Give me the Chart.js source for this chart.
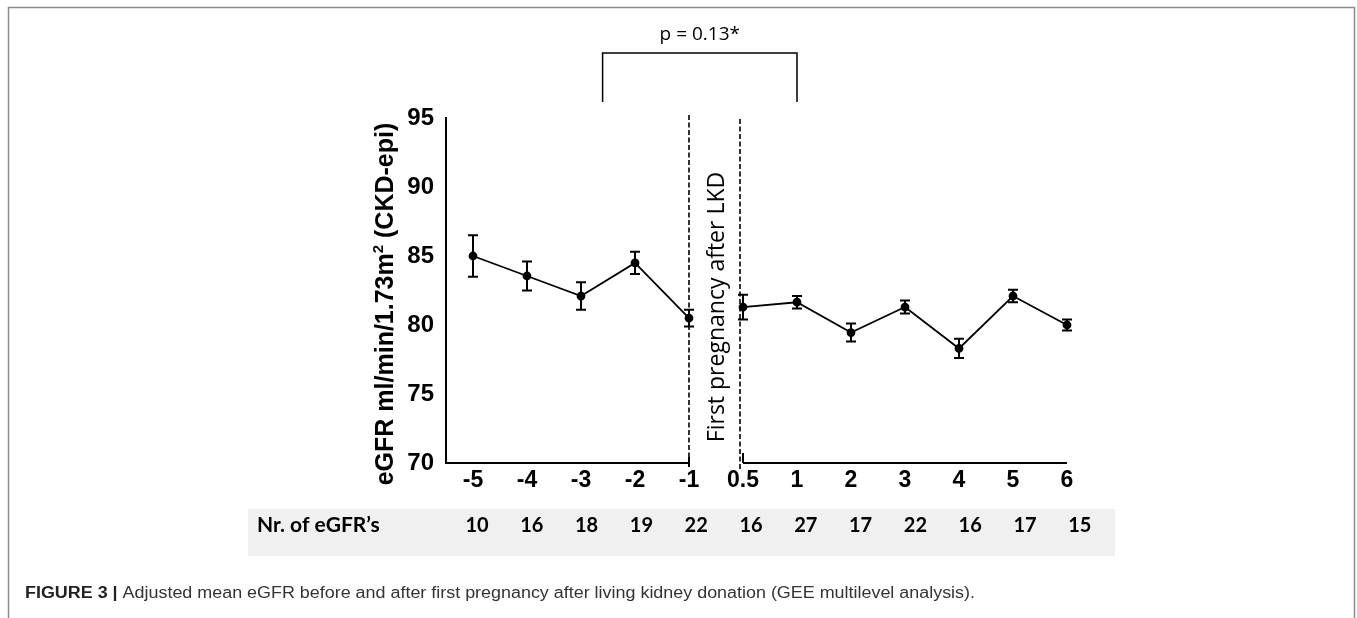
<!DOCTYPE html>
<html>
<head>
<meta charset="utf-8">
<script src="https://cdn.jsdelivr.net/npm/chart.js@4/dist/chart.umd.min.js"></script>
<style>
  html, body { margin: 0; padding: 0; background: #fff; }
  #wrap { width: 1357px; height: 618px; }
</style>
</head>
<body>
<div id="wrap"><canvas id="myChart" width="1357" height="618"></canvas></div>
<script>
// years relative to first pregnancy
const yearLabels = ['-5', '-4', '-3', '-2', '-1', '0.5', '1', '2', '3', '4', '5', '6'];
// adjusted mean eGFR (GEE)
const meanEgfr = [85.0, 83.55, 82.1, 84.5, 80.5, 81.3, 81.65, 79.45, 81.3, 78.3, 82.1, 80.0];
const errorMargin = [1.5, 1.05, 1.0, 0.8, 0.6, 0.9, 0.45, 0.65, 0.47, 0.7, 0.45, 0.4];
const nrOfEgfr = [10, 16, 18, 19, 22, 16, 27, 17, 22, 16, 17, 15];
const yTicks = [70, 75, 80, 85, 90, 95];

const lastBefore = 4; // index of '-1'

/* background, frame and the table band */
const backgroundPlugin = {
  id: 'background',
  beforeDraw(chart) {
    const ctx = chart.ctx;
    ctx.save();
    ctx.fillStyle = '#fff';
    ctx.fillRect(0, 0, chart.width, chart.height);
    // frame
    ctx.strokeStyle = '#8c8c8c';
    ctx.lineWidth = 1.5;
    ctx.beginPath();
    ctx.moveTo(8.5, chart.height);
    ctx.lineTo(8.5, 7.5);
    ctx.lineTo(1354.5, 7.5);
    ctx.lineTo(1354.5, chart.height);
    ctx.stroke();
    // grey band of the table
    ctx.fillStyle = '#f0f0f0';
    ctx.fillRect(248, 509, 867, 47);
    ctx.restore();
  }
};

/* error bars */
const errorBarPlugin = {
  id: 'errorBars',
  afterDatasetsDraw(chart) {
    const ctx = chart.ctx;
    const x = chart.scales.x, y = chart.scales.y;
    ctx.save();
    ctx.strokeStyle = '#000';
    ctx.lineWidth = 2;
    meanEgfr.forEach(function(v, i) {
      const px = x.getPixelForValue(i);
      const top = y.getPixelForValue(v + errorMargin[i]);
      const bot = y.getPixelForValue(v - errorMargin[i]);
      ctx.beginPath();
      ctx.moveTo(px, top); ctx.lineTo(px, bot);
      ctx.moveTo(px - 5, top); ctx.lineTo(px + 5, top);
      ctx.moveTo(px - 5, bot); ctx.lineTo(px + 5, bot);
      ctx.stroke();
    });
    ctx.restore();
  }
};

/* split x axis, dashed markers, bracket, labels, table and caption */
const annotatePlugin = {
  id: 'annotate',
  afterDraw(chart) {
    const ctx = chart.ctx;
    const x = chart.scales.x, y = chart.scales.y;
    const area = chart.chartArea;
    const xa = x.getPixelForValue(lastBefore);
    const xb = x.getPixelForValue(lastBefore + 1);
    const xEnd = x.getPixelForValue(yearLabels.length - 1);
    ctx.save();
    ctx.strokeStyle = '#000';
    ctx.fillStyle = '#000';

    // x axis in two parts
    ctx.lineWidth = 2;
    ctx.beginPath();
    ctx.moveTo(area.left, area.bottom); ctx.lineTo(xa, area.bottom);
    ctx.moveTo(xa, area.bottom - 6); ctx.lineTo(xa, area.bottom + 4);
    ctx.moveTo(xb, area.bottom); ctx.lineTo(xEnd, area.bottom);
    ctx.moveTo(xb, area.bottom - 10); ctx.lineTo(xb, area.bottom);
    ctx.stroke();

    // dashed vertical lines around the pregnancy
    ctx.lineWidth = 1.6;
    ctx.setLineDash([5, 2.5]);
    ctx.beginPath();
    ctx.moveTo(xa, area.top - 3); ctx.lineTo(xa, area.bottom + 4);
    ctx.moveTo(xb - 3, area.top + 1); ctx.lineTo(xb - 3, area.bottom + 7);
    ctx.stroke();
    ctx.setLineDash([]);

    // vertical label between the lines
    ctx.save();
    ctx.translate((xa + xb - 3) / 2 + 9, 307);
    ctx.rotate(-Math.PI / 2);
    ctx.font = '23px "Open Sans"';
    ctx.textAlign = 'center';
    ctx.textBaseline = 'alphabetic';
    ctx.fillText('First pregnancy after LKD', 0, 0);
    ctx.restore();

    // bracket with p value
    const bl = x.getPixelForValue(2.4), br = x.getPixelForValue(6);
    ctx.lineWidth = 1.5;
    ctx.beginPath();
    ctx.moveTo(bl, 102); ctx.lineTo(bl, 53); ctx.lineTo(br, 53); ctx.lineTo(br, 102);
    ctx.stroke();
    ctx.font = '19px "Open Sans"';
    ctx.textAlign = 'center';
    ctx.fillText('p = 0.13*', (bl + br) / 2, 40);

    // y axis title with superscript
    ctx.save();
    ctx.translate(393, 304);
    ctx.rotate(-Math.PI / 2);
    const big = 'bold 25px "Liberation Sans"', small = 'bold 15px "Liberation Sans"';
    const p1 = 'eGFR ml/min/1.73m', p2 = '2', p3 = ' (CKD-epi)';
    ctx.font = big;
    const w1 = ctx.measureText(p1).width, w3 = ctx.measureText(p3).width;
    ctx.font = small;
    const w2 = ctx.measureText(p2).width;
    let sx = -(w1 + w2 + w3) / 2;
    ctx.textAlign = 'left';
    ctx.font = big; ctx.fillText(p1, sx, 0); sx += w1;
    ctx.font = small; ctx.fillText(p2, sx, -10); sx += w2;
    ctx.font = big; ctx.fillText(p3, sx, 0);
    ctx.restore();

    // table row
    ctx.font = 'bold 21px Lato';
    ctx.textAlign = 'left';
    ctx.fillText('Nr. of eGFR\u2019s', 257, 532);
    ctx.font = 'bold 20px Lato';
    ctx.textAlign = 'center';
    nrOfEgfr.forEach(function(n, i) {
      ctx.fillText(String(n), x.getPixelForValue(i) + 4 + i * 0.8, 532);
    });

    // caption
    const c1 = 'FIGURE 3 | ', c2 = 'Adjusted mean eGFR before and after first pregnancy after living kidney donation (GEE multilevel analysis).';
    ctx.textAlign = 'left';
    ctx.font = 'bold 16px "Liberation Sans"';
    const cw1 = ctx.measureText(c1).width;
    ctx.font = '16px "Liberation Sans"';
    const cw2 = ctx.measureText(c2).width;
    const k = 950 / (cw1 + cw2);
    ctx.save();
    ctx.translate(25, 598);
    ctx.scale(k, 1);
    ctx.fillStyle = '#222';
    ctx.font = 'bold 16px "Liberation Sans"';
    ctx.fillText(c1, 0, 0);
    ctx.fillStyle = '#333';
    ctx.font = '16px "Liberation Sans"';
    ctx.fillText(c2, cw1, 0);
    ctx.restore();

    ctx.restore();
  }
};

new Chart(document.getElementById('myChart'), {
  type: 'line',
  data: {
    labels: yearLabels,
    datasets: [{
      label: 'eGFR',
      data: meanEgfr,
      borderColor: '#000',
      borderWidth: 1.8,
      pointRadius: 3.5,
      pointBackgroundColor: '#000',
      pointBorderColor: '#000',
      segment: {
        borderColor: c => c.p0DataIndex === lastBefore ? 'rgba(0,0,0,0)' : '#000'
      },
      clip: false
    }]
  },
  options: {
    responsive: false,
    animation: false,
    layout: { padding: { top: 118, right: 263, bottom: 0, left: 0 } },
    plugins: { legend: { display: false }, tooltip: { enabled: false } },
    scales: {
      x: {
        type: 'category',
        offset: true,
        grid: { display: false, drawTicks: false },
        border: { display: false },
        ticks: {
          color: '#000',
          font: { family: 'Liberation Sans', size: 23, weight: 'bold' },
          padding: 4,
          maxRotation: 0,
          autoSkip: false
        },
        afterFit(scale) { scale.height = 155; }
      },
      y: {
        min: 70,
        max: 95,
        afterBuildTicks(scale) { scale.ticks = yTicks.map(v => ({ value: v })); },
        grid: { display: false, drawTicks: false },
        border: { display: true, color: '#000', width: 2 },
        ticks: {
          color: '#000',
          font: { family: 'Liberation Sans', size: 24, weight: 'bold' },
          padding: 12
        },
        afterFit(scale) { scale.width = 446; }
      }
    }
  },
  plugins: [backgroundPlugin, errorBarPlugin, annotatePlugin]
});
</script>
</body>
</html>
